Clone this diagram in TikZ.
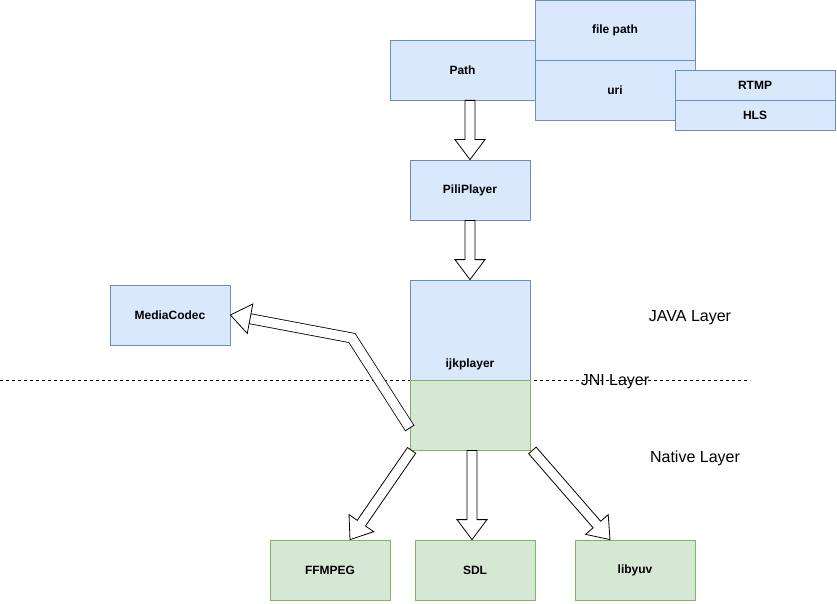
\documentclass[tikz,border=0pt]{standalone}
\usepackage{fontspec}
\setmainfont{Liberation Sans}
\usetikzlibrary{calc}
\definecolor{javafill}{HTML}{DAE8FC}
\definecolor{javaline}{HTML}{6C8EBF}
\definecolor{nativefill}{HTML}{D5E8D4}
\definecolor{nativeline}{HTML}{82B366}
\newcommand\fatarrow[2]{%
  \coordinate (fh) at ($(#2)!20pt!(#1)$);
  \filldraw[fat] ($(#1)!5pt!90:(#2)$) -- ($(fh)!5pt!90:(#2)$)
    -- ($(fh)!15pt!90:(#2)$) -- (#2) -- ($(fh)!15pt!-90:(#2)$)
    -- ($(fh)!5pt!-90:(#2)$) -- ($(#1)!5pt!-90:(#2)$) -- cycle;}

\begin{document}
\begin{tikzpicture}[x=1pt, y=-1pt,
  box/.style = {shape=rectangle, draw, line width=0.8pt,
    minimum width=120pt, minimum height=60pt, inner sep=0pt,
    font=\fontsize{12}{14}\selectfont\bfseries},
  javabox/.style = {box, fill=javafill, draw=javaline},
  nativebox/.style = {box, fill=nativefill, draw=nativeline},
  layer/.style = {font=\fontsize{16}{19}\selectfont},
  fat/.style = {draw=black, fill=white, line width=0.8pt, line join=miter}]
  \useasboundingbox (0,0) rectangle (837,604);
  \draw[dash pattern=on 3pt off 3pt, line width=0.8pt] (0,380) -- (750,380);

  \node[javabox, minimum width=145pt] (path) at (462.5,70) {Path};
  \node[javabox, minimum width=160pt] (filepath) at (615,30) {file path};
  \node[javabox, minimum width=160pt] (uri) at (615,90) {uri};
  \node[javabox, minimum width=160pt, minimum height=30pt] (rtmp) at (755,85) {RTMP};
  \node[javabox, minimum width=160pt, minimum height=30pt] (hls) at (755,115) {HLS};
  \node[javabox] (pili) at (470,190) {PiliPlayer};
  \node[javabox, minimum height=100pt,
    label={[label distance=-25pt, font=\fontsize{12}{14}\selectfont\bfseries]south:ijkplayer}]
    (ijkJava) at (470,330) {};
  \node[nativebox, minimum height=70pt] (ijkNative) at (470,415) {};
  \node[javabox] (mediacodec) at (170,315) {MediaCodec};
  \node[nativebox] (ffmpeg) at (330,570) {FFMPEG};
  \node[nativebox] (sdl) at (475,570) {SDL};
  \node[nativebox] (libyuv) at (635,570) {libyuv};

  \node[layer] (java) at (690,318) {JAVA Layer};
  \node[layer] (jni) at (615,382) {JNI Layer};
  \node[layer] (native) at (695,458) {Native Layer};

  \coordinate (pathOut) at (path.south -| pili.north);
  \fatarrow{pathOut}{pili.north}
  \fatarrow{pili.south}{ijkJava.north}
  \coordinate (ffOut) at ($(ijkNative.south west)+(2,0)$);
  \coordinate (ffIn) at ($(ffmpeg.north)+(20,0)$);
  \fatarrow{ffOut}{ffIn}
  \coordinate (sdlOut) at ($(ijkNative.south)+(2,0)$);
  \coordinate (sdlIn) at (sdl.north -| sdlOut);
  \fatarrow{sdlOut}{sdlIn}
  \coordinate (yuvOut) at ($(ijkNative.south east)+(2,0)$);
  \coordinate (yuvIn) at ($(libyuv.north)+(-25,0)$);
  \fatarrow{yuvOut}{yuvIn}

  \coordinate (mcOut) at ($(ijkNative.west)+(0,13)$);
  \coordinate (mcBend) at (352,338);
  \coordinate (mcHead) at ($(mediacodec.east)!20pt!(mcBend)$);
  \draw[line width=0.8pt, double=white, double distance=9.2pt, line join=miter]
    (mcOut) -- (mcBend) -- (mcHead);
  \draw[line width=0.8pt] ($(mcOut)!5.4pt!90:(mcBend)$) -- ($(mcOut)!5.4pt!-90:(mcBend)$);
  \filldraw[fat] ($(mcHead)!15pt!90:(mediacodec.east)$) -- (mediacodec.east)
    -- ($(mcHead)!15pt!-90:(mediacodec.east)$) -- cycle;
\end{tikzpicture}
\end{document}
